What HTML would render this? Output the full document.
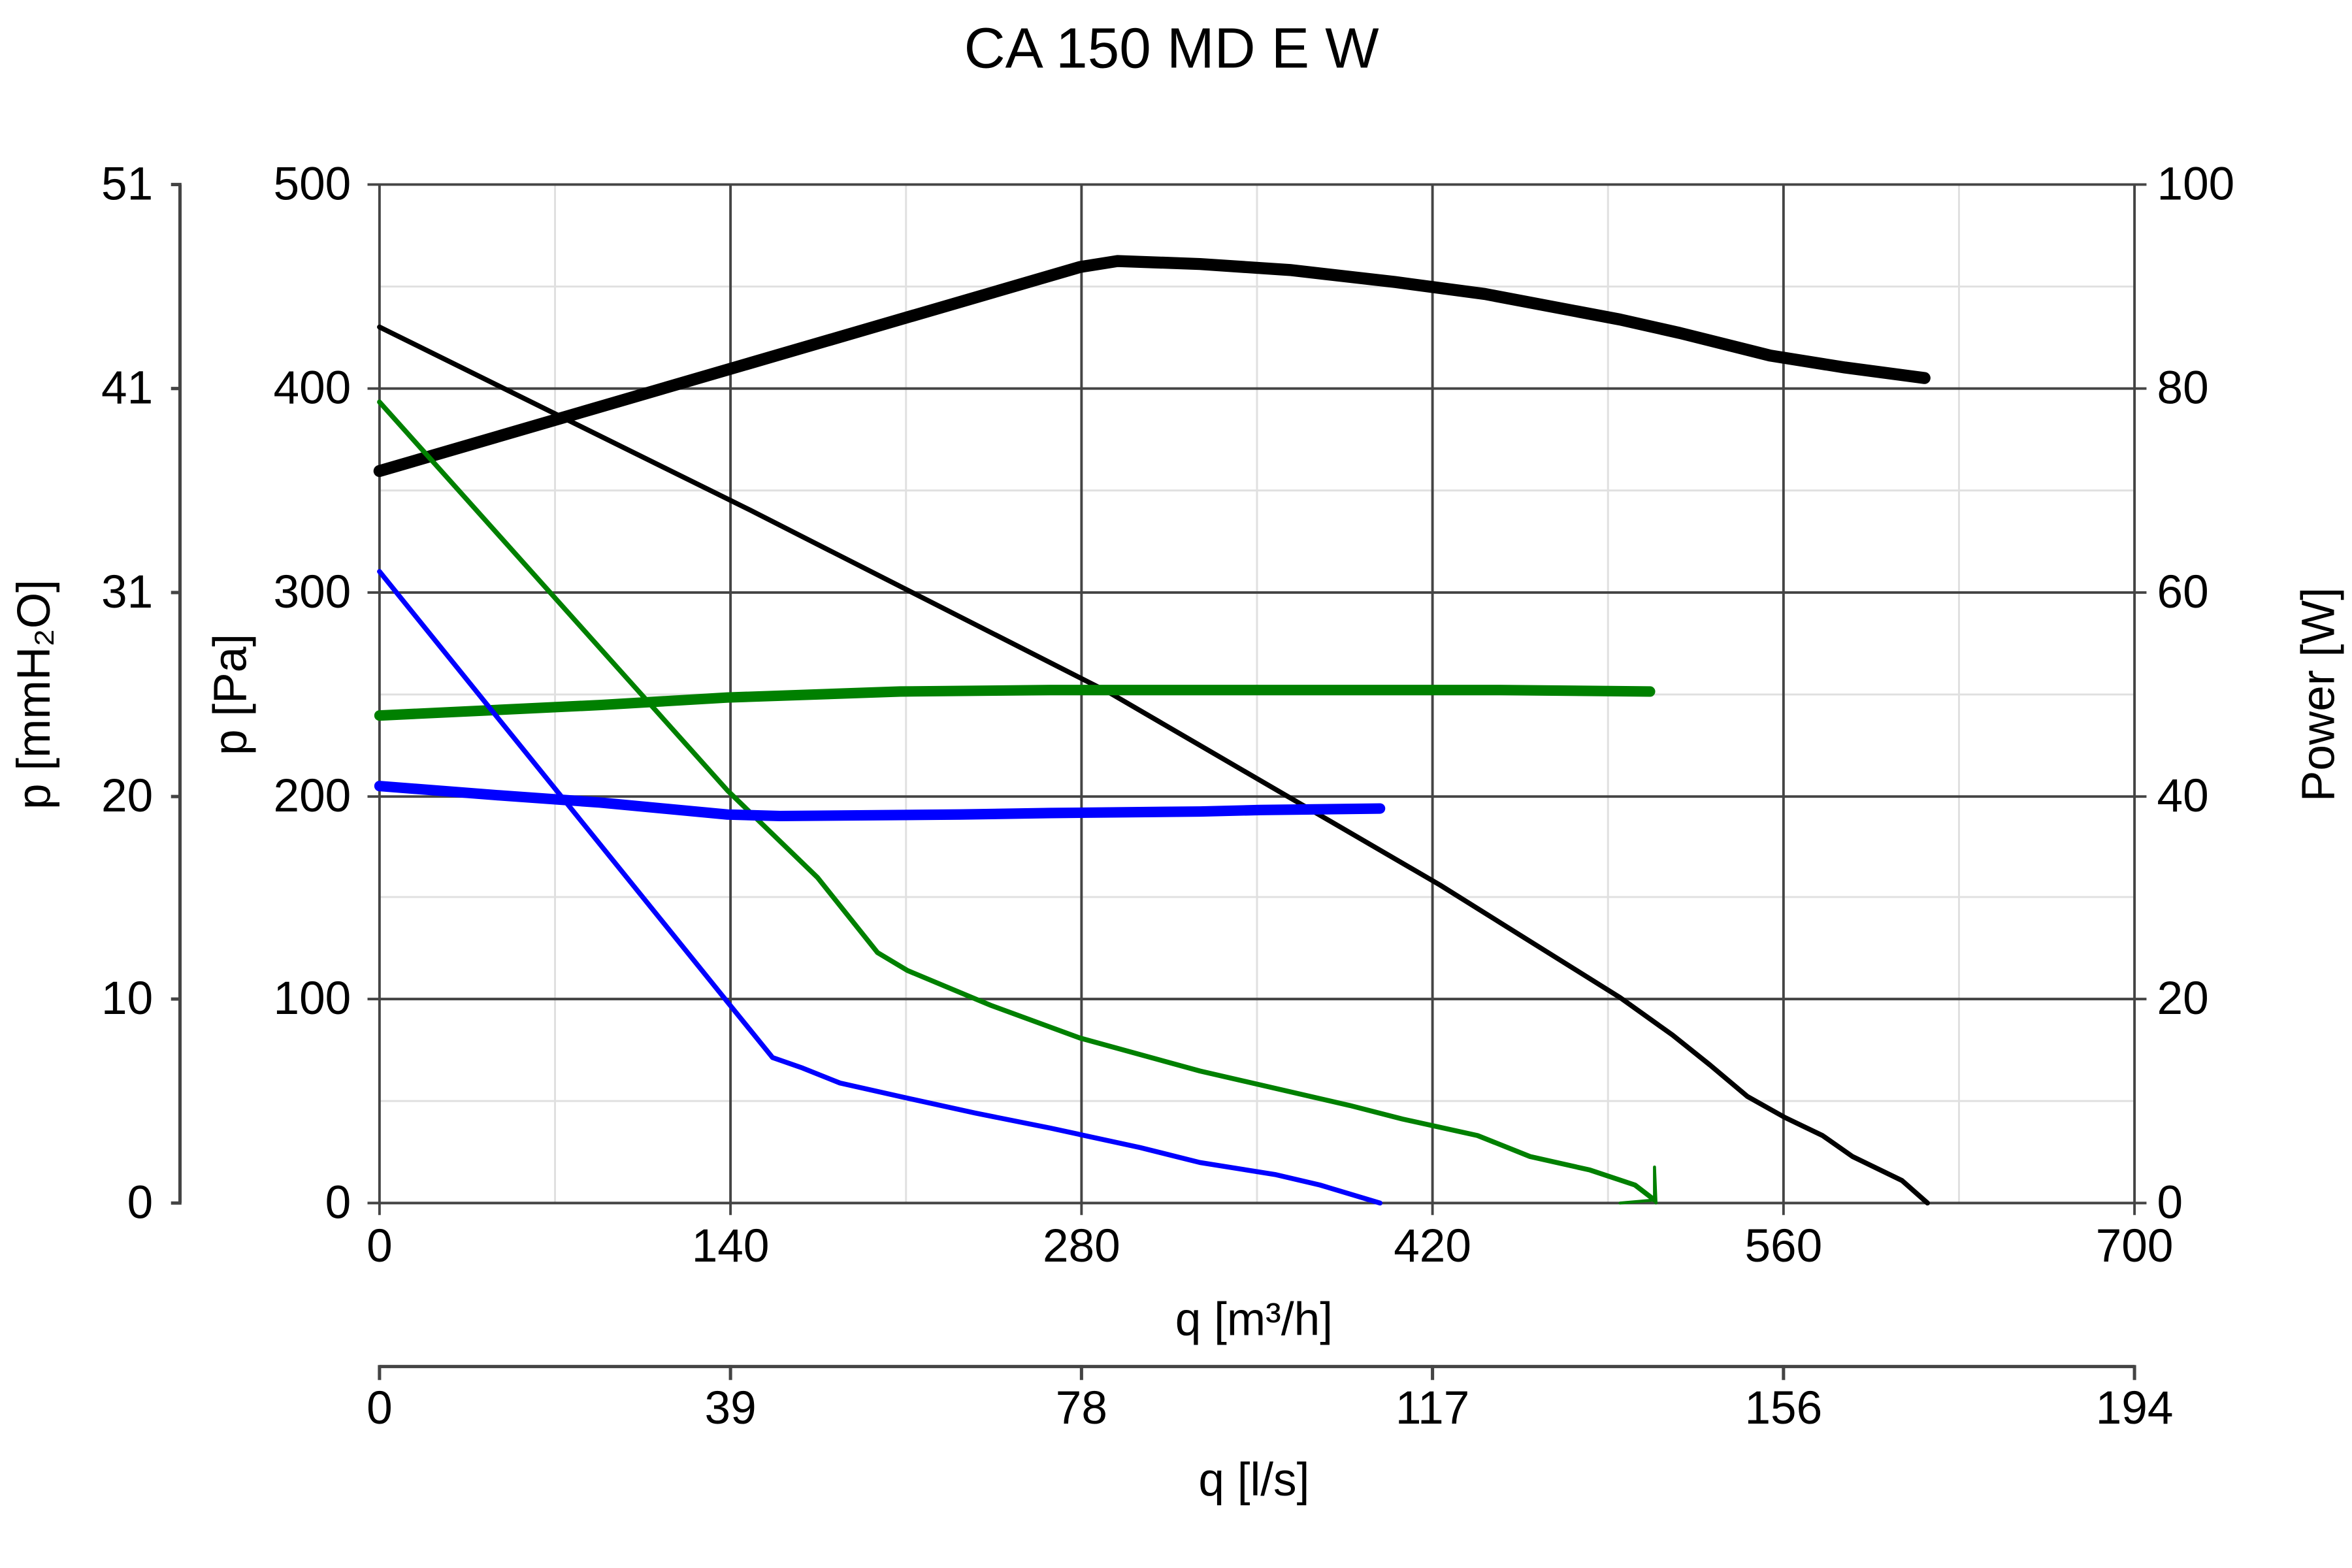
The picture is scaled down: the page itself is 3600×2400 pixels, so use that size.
<!DOCTYPE html>
<html><head><meta charset="utf-8"><style>
html,body{margin:0;padding:0;background:#fff;}
svg{display:block;}
text{font-family:"Liberation Sans",Arial,sans-serif;fill:#000;}
</style></head><body>
<svg width="3600" height="2400" viewBox="0 0 1568 1045.3" xmlns="http://www.w3.org/2000/svg">
<rect width="1568" height="1045.3" fill="#fff"/>
<g stroke="#e0e0e0" stroke-width="1.3">
<line x1="370" y1="123" x2="370" y2="802"/><line x1="604" y1="123" x2="604" y2="802"/><line x1="838" y1="123" x2="838" y2="802"/><line x1="1072" y1="123" x2="1072" y2="802"/><line x1="1306" y1="123" x2="1306" y2="802"/>
<line x1="253" y1="191" x2="1423" y2="191"/><line x1="253" y1="327" x2="1423" y2="327"/><line x1="253" y1="463" x2="1423" y2="463"/><line x1="253" y1="598" x2="1423" y2="598"/><line x1="253" y1="734" x2="1423" y2="734"/>
</g>
<g stroke="#444" stroke-width="1.7">
<line x1="253" y1="123" x2="253" y2="810"/><line x1="487" y1="123" x2="487" y2="810"/><line x1="721" y1="123" x2="721" y2="810"/><line x1="955" y1="123" x2="955" y2="810"/><line x1="1189" y1="123" x2="1189" y2="810"/><line x1="1423" y1="123" x2="1423" y2="810"/>
<line x1="245" y1="123" x2="1431" y2="123"/><line x1="245" y1="259" x2="1431" y2="259"/><line x1="245" y1="395" x2="1431" y2="395"/><line x1="245" y1="531" x2="1431" y2="531"/><line x1="245" y1="666" x2="1431" y2="666"/><line x1="245" y1="802" x2="1431" y2="802"/>
</g>
<g stroke="#444" stroke-width="2.2" fill="none">
<line x1="120" y1="123" x2="120" y2="802"/>
<line x1="114" y1="123" x2="121" y2="123"/><line x1="114" y1="259" x2="121" y2="259"/><line x1="114" y1="395" x2="121" y2="395"/><line x1="114" y1="531" x2="121" y2="531"/><line x1="114" y1="666" x2="121" y2="666"/><line x1="114" y1="802" x2="121" y2="802"/>
<line x1="253" y1="911" x2="1423" y2="911"/>
<line x1="253" y1="910" x2="253" y2="920"/><line x1="487" y1="910" x2="487" y2="920"/><line x1="721" y1="910" x2="721" y2="920"/><line x1="955" y1="910" x2="955" y2="920"/><line x1="1189" y1="910" x2="1189" y2="920"/><line x1="1423" y1="910" x2="1423" y2="920"/>
</g>
<text x="781" y="45" font-size="38" text-anchor="middle">CA 150 MD E W</text>
<g font-size="31" text-anchor="end">
<text x="102" y="133">51</text><text x="102" y="269">41</text><text x="102" y="405">31</text><text x="102" y="541">20</text><text x="102" y="676">10</text><text x="102" y="812">0</text>
<text x="234" y="133">500</text><text x="234" y="269">400</text><text x="234" y="405">300</text><text x="234" y="541">200</text><text x="234" y="676">100</text><text x="234" y="812">0</text>
</g>
<g font-size="31" text-anchor="start">
<text x="1438" y="133">100</text><text x="1438" y="269">80</text><text x="1438" y="405">60</text><text x="1438" y="541">40</text><text x="1438" y="676">20</text><text x="1438" y="812">0</text>
</g>
<g font-size="31" text-anchor="middle">
<text x="253" y="841">0</text><text x="487" y="841">140</text><text x="721" y="841">280</text><text x="955" y="841">420</text><text x="1189" y="841">560</text><text x="1423" y="841">700</text>
<text x="836" y="890">q [m³/h]</text>
<text x="253" y="949">0</text><text x="487" y="949">39</text><text x="721" y="949">78</text><text x="955" y="949">117</text><text x="1189" y="949">156</text><text x="1423" y="949">194</text>
<text x="836" y="997">q [l/s]</text>
<text transform="translate(33,463) rotate(-90)">p [mmH₂O]</text>
<text transform="translate(164,463) rotate(-90)">p [Pa]</text>
<text transform="translate(1556,463) rotate(-90)">Power [W]</text>
</g>
<g fill="none" stroke-linejoin="round" stroke-linecap="round">
<polyline stroke="#000" stroke-width="3.3" points="253,218 500,340 740,462 960,590 1000,615 1080,665 1115,690 1140,710 1165,731 1190,745 1215,757 1235,771 1268,787 1285,802"/>
<polyline stroke="#000" stroke-width="8" points="253,314 720,178 745,174 800,176 860,180 930,188 990,196 1080,213 1120,222 1180,237 1230,245 1283,252"/>
<polyline stroke="#008000" stroke-width="3.3" points="253,268 485,527 545,585 585,635 605,647 660,670 720,692 800,714 900,737 935,746 985,757 1020,771 1060,780 1090,790 1103,800"/>
<polyline stroke="#008000" stroke-width="2" points="1080,802 1103,800 1103,778 1104,802"/>
<polyline stroke="#008000" stroke-width="7" points="253,477 400,470 485,465 600,461 700,460 1000,460 1100,461"/>
<polyline stroke="#0000ff" stroke-width="3.3" points="253,381 485,668 515,705 535,712 560,722 600,731 650,742 700,752 760,765 800,775 850,783 880,790 920,802"/>
<polyline stroke="#0000ff" stroke-width="7" points="253,524 330,530 400,535 485,543 520,544 640,543 700,542 800,541 840,540 920,539"/>
</g>
</svg>
</body></html>
